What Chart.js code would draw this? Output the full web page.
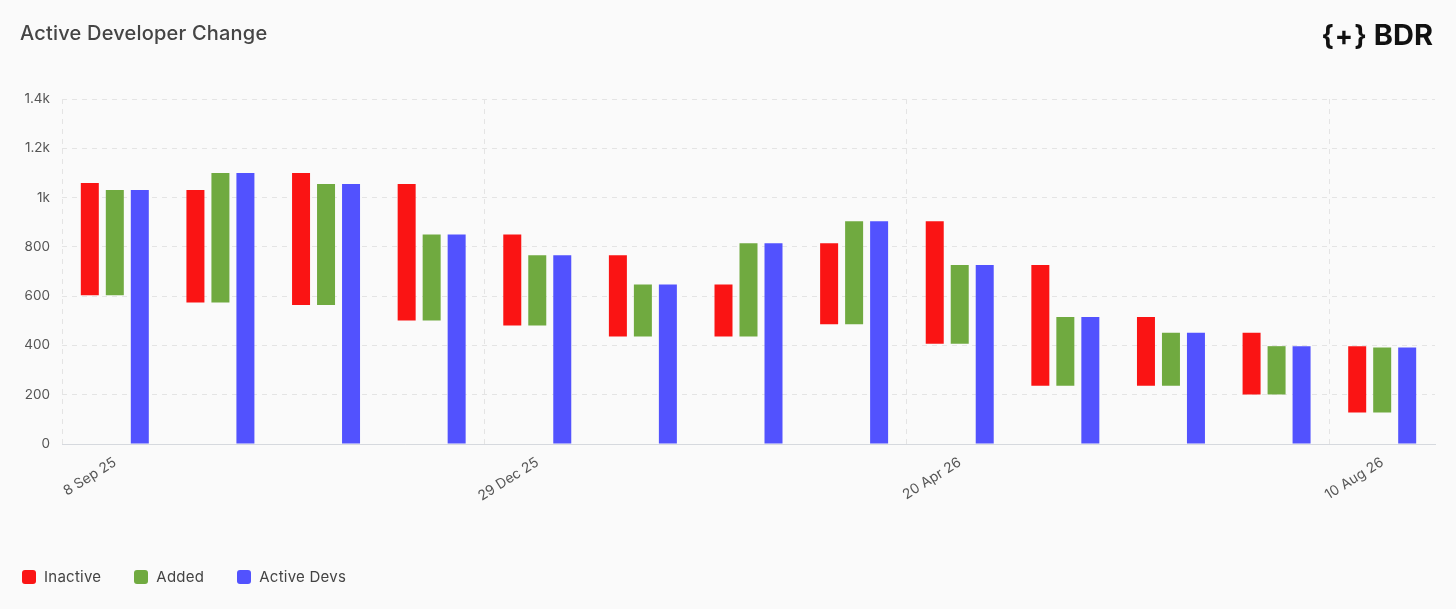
<!DOCTYPE html>
<html>
<head>
<meta charset="utf-8">
<title>Active Developer Change</title>
<script src="https://cdn.jsdelivr.net/npm/chart.js@4.4.1/dist/chart.umd.min.js"></script>
<style>
    html, body {
        margin: 0;
        padding: 0;
        background: #fafafa;
        font-family: Inter, "Noto Sans", sans-serif;
    }
    .wrap {
        position: relative;
        width: 1456px;
        height: 609px;
    }
    .title {
        position: absolute;
        left: 20px;
        top: 21px;
        font-size: 20px;
        font-weight: 500;
        letter-spacing: 0.2px;
        color: #454545;
    }
    .logo {
        position: absolute;
        right: 23px;
        top: 17px;
        font-weight: 700;
        color: #111;
        white-space: nowrap;
    }
    .logo .br { font-size: 27px; letter-spacing: 1px; margin-right: 6px; }
    .logo .name { font-size: 29px; }
    .chart-box {
        position: absolute;
        left: 0;
        top: 0;
        width: 1456px;
        height: 609px;
    }
    .legend {
        position: absolute;
        left: 22px;
        top: 567px;
        display: flex;
        font-size: 15px;
        letter-spacing: 0.25px;
        color: #444;
    }
    .legend span.item { display: flex; align-items: center; margin-right: 33px; }
    .legend i { display: inline-block; width: 14px; height: 14px; border-radius: 3px; margin-right: 8px; }
</style>
</head>
<body>
<div class="wrap">
    <div class="chart-box"><canvas id="devChart"></canvas></div>
    <div class="title">Active Developer Change</div>
    <div class="logo"><span class="br">{+}</span><span class="name">BDR</span></div>
    <div class="legend" id="legend"></div>
</div>
<script>
// x positions of each 4-week group (axis units, ticks every 4 groups)
const barPositions = [0.5, 1.5, 2.5, 3.5, 4.5, 5.5, 6.5, 7.5, 8.5, 9.5, 10.5, 11.5, 12.5];
const tickPositions = [0, 4, 8, 12];
const tickLabels = ['8 Sep 25', '29 Dec 25', '20 Apr 26', '10 Aug 26'];

// floating bars
const inactiveTop    = [1059, 1031, 1100, 1055, 850, 766, 647, 815, 904, 726, 515, 451, 397];
const inactiveBottom = [604, 574, 564, 501, 481, 436, 436, 486, 407, 236, 236, 201, 128];
const addedTop       = [1031, 1100, 1055, 850, 766, 647, 815, 904, 726, 515, 451, 397, 392];
const addedBottom    = [604, 574, 564, 501, 481, 436, 436, 486, 407, 236, 236, 201, 128];
const activeDevs     = [1031, 1100, 1055, 850, 766, 647, 815, 904, 726, 515, 451, 397, 392];

const colors = {
    inactive: '#fa1414',
    added: '#70aa40',
    active: '#5252fe'
};

document.addEventListener('DOMContentLoaded', () => {
    const ctx = document.getElementById('devChart').getContext('2d');

    const datasets = [
        {
            label: 'Inactive',
            data: barPositions.map((x, i) => ({ x: x, y: [inactiveBottom[i], inactiveTop[i]] })),
            backgroundColor: colors.inactive
        },
        {
            label: 'Added',
            data: barPositions.map((x, i) => ({ x: x, y: [addedBottom[i], addedTop[i]] })),
            backgroundColor: colors.added
        },
        {
            label: 'Active Devs',
            data: barPositions.map((x, i) => ({ x: x, y: activeDevs[i] })),
            backgroundColor: colors.active
        }
    ];

    new Chart(ctx, {
        type: 'bar',
        data: { datasets: datasets },
        options: {
            responsive: true,
            maintainAspectRatio: false,
            animation: false,
            layout: {
                padding: { top: 99, right: 21, bottom: 105, left: 0 }
            },
            datasets: {
                bar: {
                    categoryPercentage: 0.71,
                    barPercentage: 0.72,
                    borderWidth: 0
                }
            },
            scales: {
                x: {
                    type: 'linear',
                    min: 0,
                    max: 13,
                    offset: false,
                    afterBuildTicks: (scale) => {
                        scale.ticks = tickPositions.map(v => ({ value: v }));
                    },
                    afterFit: (scale) => { scale.height = 60; },
                    ticks: {
                        autoSkip: false,
                        minRotation: 32,
                        maxRotation: 32,
                        labelOffset: 53,
                        padding: 10,
                        color: '#555',
                        font: { family: 'Inter', size: 14 },
                        callback: (v) => tickLabels[tickPositions.indexOf(v)]
                    },
                    grid: {
                        offset: false,
                        color: '#e4e4e4',
                        drawTicks: false
                    },
                    border: {
                        display: true,
                        color: '#d6d9de',
                        dash: [5, 5]
                    }
                },
                y: {
                    min: 0,
                    max: 1400,
                    afterFit: (scale) => { scale.width = 62; },
                    ticks: {
                        stepSize: 200,
                        padding: 12,
                        color: '#555',
                        font: { family: 'Inter', size: 13.5 },
                        callback: (v) => v >= 1000 ? (v / 1000) + 'k' : v
                    },
                    grid: {
                        color: '#e4e4e4',
                        drawTicks: false
                    },
                    border: {
                        display: false,
                        dash: [5, 5]
                    }
                }
            },
            plugins: {
                legend: { display: false },
                tooltip: { enabled: false }
            }
        }
    });

    // simple html legend in the bottom left corner
    const legend = document.getElementById('legend');
    datasets.forEach(ds => {
        const item = document.createElement('span');
        item.className = 'item';
        item.innerHTML = `<i style="background:${ds.backgroundColor}"></i>${ds.label}`;
        legend.appendChild(item);
    });
});
</script>
</body>
</html>
